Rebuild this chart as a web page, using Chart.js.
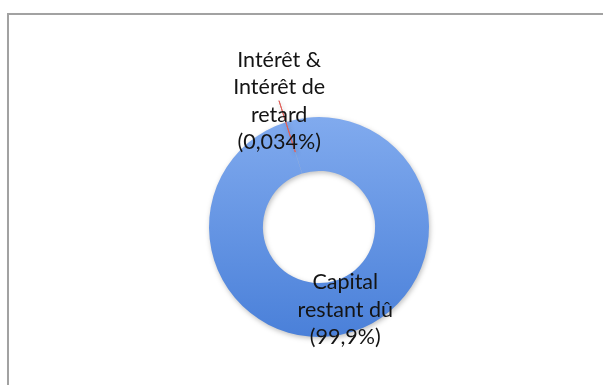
<!DOCTYPE html>
<html>
<head>
<meta charset="utf-8">
<script src="https://cdn.jsdelivr.net/npm/chart.js@4"></script>
<style>
    html, body { margin: 0; padding: 0; background: #fff; }
    #wrap { position: relative; width: 603px; height: 385px; overflow: hidden; }
    #frame {
        position: absolute; left: 7px; top: 13px; width: 700px; height: 500px;
        border: 2px solid #a2a2a2; box-shadow: 1px 1px 2px rgba(0,0,0,0.08);
    }
    #chart { position: absolute; left: 0; top: 0; }
</style>
</head>
<body>
<div id="wrap">
    <div id="frame"></div>
    <canvas id="chart" width="603" height="385"></canvas>
</div>
<script>
// Répartition de la créance
const categories = [['Capital', 'restant dû', '(99,9%)'], ['Intérêt &', 'Intérêt de', 'retard', '(0,034%)']];
const shares = [99.9, 0.034];
const sliceOffsets = [0, 45];
const gradientStops = [['#8db4f3', '#4a80d9'], ['#f2837c', '#d44840']];

const ringRadius = 110;

function sliceFill(context) {
    const chart = context.chart;
    const area = chart.chartArea;
    if (!area) return gradientStops[context.dataIndex][1];
    const cy = (area.top + area.bottom) / 2;
    const g = chart.ctx.createLinearGradient(0, cy - ringRadius - 50, 0, cy + ringRadius);
    g.addColorStop(0, gradientStops[context.dataIndex][0]);
    g.addColorStop(1, gradientStops[context.dataIndex][1]);
    return g;
}

// soft drop shadow under the ring
const ringShadow = {
    id: 'ringShadow',
    beforeDatasetsDraw(chart) {
        const ctx = chart.ctx;
        ctx.save();
        ctx.shadowColor = 'rgba(0,0,0,0.25)';
        ctx.shadowBlur = 5;
        ctx.shadowOffsetX = 1;
        ctx.shadowOffsetY = 2;
    },
    afterDatasetsDraw(chart) {
        chart.ctx.restore();
    }
};

// multi-line labels placed a little past the middle of each slice
const sliceLabels = {
    id: 'sliceLabels',
    afterDraw(chart) {
        const ctx = chart.ctx;
        const meta = chart.getDatasetMeta(0);
        ctx.save();
        ctx.font = '21.5px Lato';
        ctx.fillStyle = '#141414';
        ctx.textAlign = 'center';
        ctx.textBaseline = 'middle';
        const lineH = 27.5;
        meta.data.forEach((arc, i) => {
            const p = arc.getProps(['x', 'y', 'startAngle', 'endAngle', 'innerRadius', 'outerRadius'], true);
            const mid = (p.startAngle + p.endAngle) / 2;
            const r = (p.innerRadius + p.outerRadius) / 2 + 4 + sliceOffsets[i];
            const lx = p.x + Math.cos(mid) * r;
            const ly = p.y + Math.sin(mid) * r;
            const lines = categories[i];
            const y0 = ly - (lines.length - 1) * lineH / 2;
            lines.forEach((t, k) => ctx.fillText(t, lx, y0 + k * lineH));
        });
        ctx.restore();
    }
};

new Chart(document.getElementById('chart'), {
    type: 'doughnut',
    data: {
        labels: categories.map(c => c.join(' ')),
        datasets: [{
            data: shares,
            backgroundColor: sliceFill,
            borderColor: ['#4a80d9', '#e0605a'],
            borderWidth: [0, 1],
            offset: sliceOffsets
        }]
    },
    options: {
        responsive: false,
        animation: false,
        radius: ringRadius,
        cutout: '51%',
        rotation: -17.5,
        layout: { padding: { left: 35, right: 0, top: 69, bottom: 0 } },
        plugins: {
            legend: { display: false },
            tooltip: { enabled: false }
        }
    },
    plugins: [ringShadow, sliceLabels]
});
</script>
</body>
</html>
